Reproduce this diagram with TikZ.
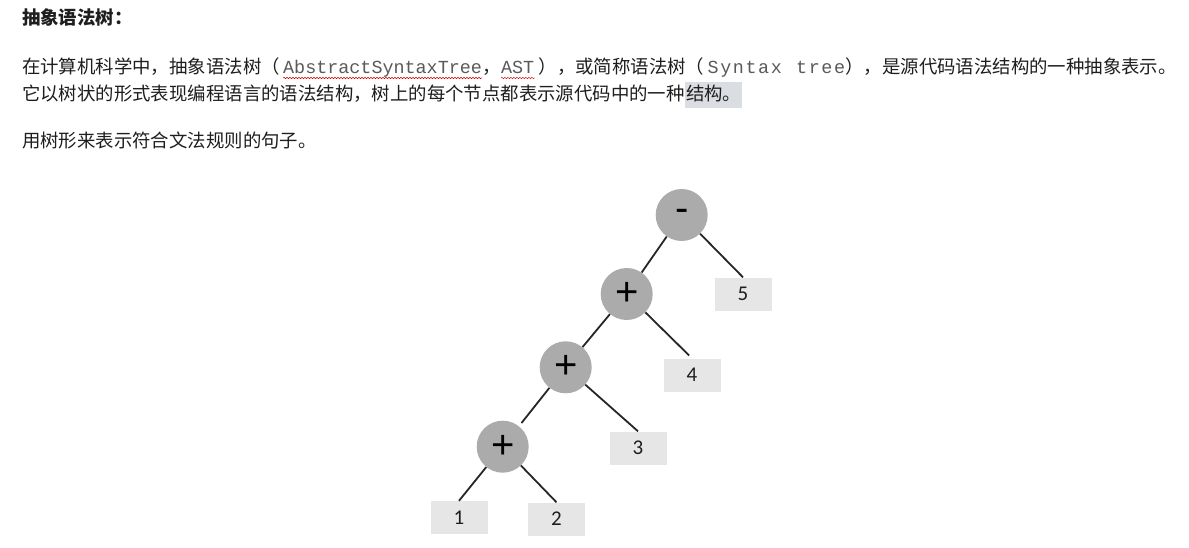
\documentclass[tikz,border=0pt]{standalone}
\usepackage{fontspec}
\setmainfont{Noto Sans CJK SC}
\newfontfamily\monofnt{Liberation Mono}
\newfontfamily\treefnt{Carlito}
\newfontfamily\opfnt{Liberation Sans}
\usetikzlibrary{decorations.pathmorphing}
\definecolor{bodytext}{HTML}{1E1E1E}
\definecolor{monotext}{HTML}{5A5A5A}
\definecolor{opfill}{HTML}{ABABAB}
\definecolor{leaffill}{HTML}{E6E6E6}
\definecolor{hilite}{HTML}{DADDE2}
\newcommand{\bodyfs}{\fontsize{18.4}{22}\selectfont}
\newcommand{\ks}{\kern1.6pt}
\tikzset{
  txt/.style={inner sep=0pt, anchor=base west, font=\bodyfs, text=bodytext},
  mono/.style={inner sep=0pt, anchor=base west, font=\bodyfs\monofnt, text=monotext},
  opnode/.style={circle, fill=opfill, minimum size=52pt, inner sep=0pt, font=\opfnt\fontsize{40}{40}\selectfont, text=black},
  leaf/.style={rectangle, fill=leaffill, minimum width=57pt, minimum height=33pt, inner sep=0pt, font=\treefnt\fontsize{21}{21}\selectfont, text=bodytext},
  edge/.style={draw=black!85, line width=1.8pt},
  squig/.style={draw=red!80!black, line width=0.5pt, decorate, decoration={snake, amplitude=0.7pt, segment length=3pt}}
}
\begin{document}
\begin{tikzpicture}[x=1pt, y=-1pt]
\useasboundingbox (0,0) rectangle (1189,548);
\fill[white] (0,0) rectangle (1189,548);
% title
\node[txt, font=\bodyfs\bfseries] (title) at (22,25) {抽象语法树：};
% line 1
\node[txt] (t1a) at (22,74) {在计算机科学中，抽象语法树（};
\node[mono] (t1b) at ([xshift=3pt]t1a.base east) {AbstractSyntaxTree};
\node[txt] (t1c) at (t1b.base east) {，};
\node[mono] (t1d) at (t1c.base east) {AST};
\node[txt] (t1e) at ([xshift=4pt]t1d.base east) {），或简称语法树（};
\node[mono] (t1f) at ([xshift=3pt]t1e.base east) {S\ks y\ks n\ks t\ks a\ks x\ks\ \ks t\ks r\ks e\ks e};
\node[txt] (t1g) at (t1f.base east) {），是源代码语法结构的一种抽象表示。};
\path[squig] ([yshift=-4pt]t1b.base west) -- ([yshift=-4pt]t1b.base east);
\path[squig] ([yshift=-4pt]t1d.base west) -- ([yshift=-4pt]t1d.base east);
% line 2
\node[txt] (t2a) at (22,101) {它以树状的形式表现编程语言的语法结构，树上的每个节点都表示源代码中的一种};
\node[txt, fill=hilite, inner ysep=0pt, inner xsep=1pt, text height=19pt, text depth=7.5pt] (t2b) at (t2a.base east) {结构。};
% line 3
\node[txt] (t3) at (22,147.5) {用树形来表示符合文法规则的句子。};
% tree
\node[opnode] (m)  at (681.7,215) {-};
\node[opnode] (p1) at (626.7,294) {+};
\node[opnode] (p2) at (565.7,367.3) {+};
\node[opnode] (p3) at (502.7,446.7) {+};
\node[leaf] (n5) at (743,294) {5};
\node[leaf] (n4) at (692,375) {4};
\node[leaf] (n3) at (638,448) {3};
\node[leaf] (n1) at (459,517.5) {1};
\node[leaf] (n2) at (556.5,519) {2};
\draw[edge] (m) -- (p1);
\draw[edge] (m) -- (n5.north);
\draw[edge] (p1) -- (p2);
\draw[edge, shorten >=4pt] (p1) -- (n4.north);
\draw[edge, shorten >=4pt] (p2) -- (p3);
\draw[edge] (p2) -- (n3.north);
\draw[edge] (p3) -- (n1.north);
\draw[edge] (p3) -- (n2.north);
\end{tikzpicture}
\end{document}
